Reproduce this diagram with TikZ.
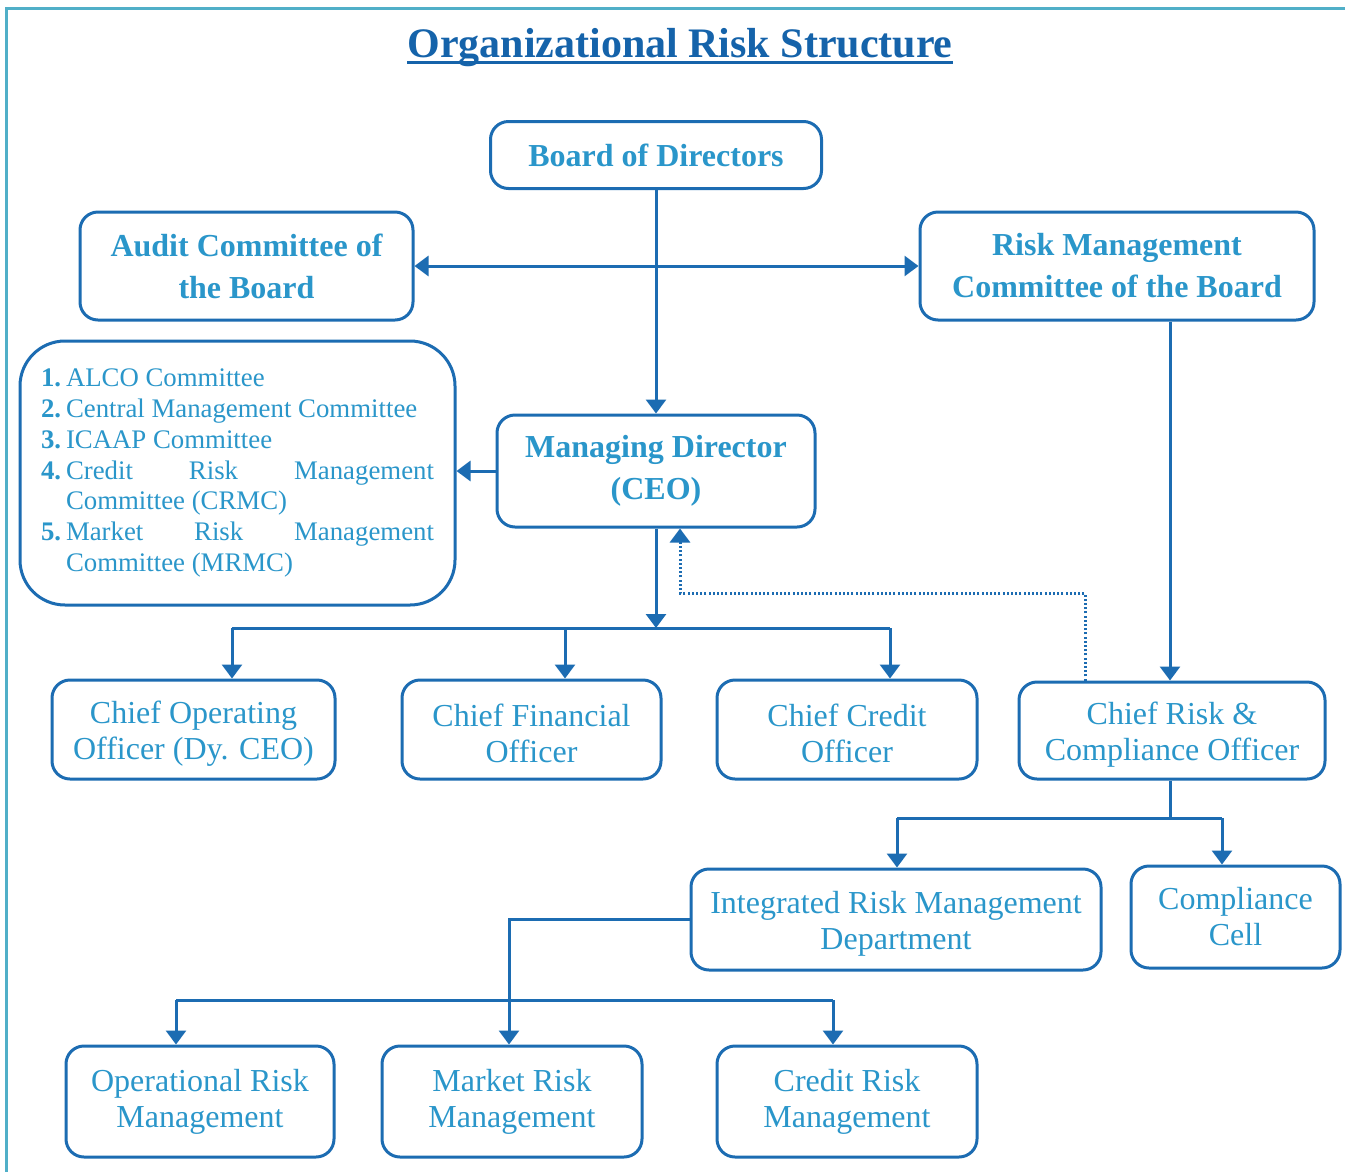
\documentclass[tikz,border=0pt]{standalone}
\usepackage{fontspec}
\setmainfont{Liberation Serif}
\usetikzlibrary{arrows.meta}
\definecolor{bordercol}{RGB}{28,108,178}
\definecolor{boxtext}{RGB}{42,150,202}
\definecolor{titlecol}{RGB}{21,99,170}
\definecolor{framecol}{RGB}{80,175,200}
\newcommand\tpad{\rule{0pt}{31pt}}
\tikzset{
  box/.style={draw=bordercol, line width=3pt, rounded corners=18pt, fill=white, inner sep=0pt, align=center, text=boxtext, font=\fontsize{32}{36}\selectfont},
  bbox/.style={box, font=\bfseries\fontsize{32}{42}\selectfont},
  link/.style={draw=bordercol, line width=3pt},
  conn/.style={link, -{Triangle[width=20pt,length=14pt]}},
  biconn/.style={link, {Triangle[width=20pt,length=14pt]}-{Triangle[width=20pt,length=14pt]}},
  dotconn/.style={conn, line width=3pt, dash pattern=on 2pt off 2.2pt},
}
\begin{document}
\begin{tikzpicture}[x=1pt,y=-1pt]
\useasboundingbox (0,0) rectangle (1345,1171);
\fill[white] (0,0) rectangle (1345,1171);
\draw[framecol, line width=3pt] (6,1175) -- (6,8) -- (1350,8);

\node[font=\bfseries\fontsize{42}{48}\selectfont, text=titlecol, inner sep=0pt, anchor=base] (title) at (680,57) {Organizational Risk Structure};
\draw[titlecol, line width=2.5pt] ([yshift=-5.5pt]title.base west) -- ([yshift=-5.5pt]title.base east);

\node[bbox, minimum width=331pt, minimum height=67pt] (board) at (656,155) {Board of Directors};
\node[bbox, minimum width=333pt, minimum height=108pt] (audit) at (246.5,266) {Audit Committee of\\the Board};
\node[bbox, minimum width=394pt, minimum height=108pt] (rmc) at (1117,266) {Risk Management\\Committee of the Board};
\node[bbox, minimum width=318pt, minimum height=112pt] (md) at (656,471) {Managing Director\\(CEO)};

\node[box, rounded corners=45pt, minimum width=435pt, minimum height=264pt, align=left, font=\fontsize{26.8}{30.8}\selectfont] (list) at (237.5,473) {%
\makebox[25pt][l]{\textbf{1.}}ALCO Committee\\
\makebox[25pt][l]{\textbf{2.}}Central Management Committee\\
\makebox[25pt][l]{\textbf{3.}}ICAAP Committee\\
\makebox[25pt][l]{\textbf{4.}}\hbox to 368pt{Credit\hfill Risk\hfill Management}\\
\hspace*{25pt}Committee (CRMC)\\
\makebox[25pt][l]{\textbf{5.}}\hbox to 368pt{Market\hfill Risk\hfill Management}\\
\hspace*{25pt}Committee (MRMC)};

\node[box, minimum width=283pt, minimum height=99pt] (coo) at (193.5,729.5) {\tpad Chief Operating\\Officer (Dy. CEO)};
\node[box, minimum width=259pt, minimum height=99pt] (cfo) at (531.5,729.5) {\tpad Chief Financial\\Officer};
\node[box, minimum width=260pt, minimum height=99pt] (cco) at (847,729.5) {\tpad Chief Credit\\Officer};
\node[box, minimum width=306pt, minimum height=97pt] (crco) at (1172,730.5) {\tpad Chief Risk \&\\Compliance Officer};
\node[box, minimum width=410pt, minimum height=101pt] (irmd) at (896,919.5) {\tpad Integrated Risk Management\\Department};
\node[box, minimum width=209pt, minimum height=102pt] (cc) at (1235.5,917) {Compliance\\Cell};
\node[box, minimum width=268pt, minimum height=111pt] (orm) at (200,1101.5) {Operational Risk\\Management};
\node[box, minimum width=260pt, minimum height=111pt] (mrm) at (512,1101.5) {Market Risk\\Management};
\node[box, minimum width=260pt, minimum height=111pt] (crm) at (847,1101.5) {Credit Risk\\Management};

% coordinates
\coordinate (mdbus) at (656,628);
\coordinate (b1) at (232,628);
\coordinate (b2) at (565,628);
\coordinate (b3) at (890,628);
\coordinate (d1) at (1085,593);
\coordinate (d2) at (680,593);
\coordinate (rbus) at (1170,818);
\coordinate (r1) at (897,818);
\coordinate (r2) at (1222,818);
\coordinate (lbus) at (509,1000);
\coordinate (l1) at (176,1000);
\coordinate (l2) at (833,1000);

% connectors
\draw[biconn] (audit.east) -- (rmc.west);
\draw[conn] (board.south) -- (md.north);
\draw[conn] (md.west) -- (md.west -| list.east);
\draw[conn] (md.south) -- (mdbus);
\draw[link] (b1) -- (b3);
\draw[conn] (b1) -- (b1 |- coo.north);
\draw[conn] (b2) -- (b2 |- cfo.north);
\draw[conn] (b3) -- (b3 |- cco.north);
\draw[conn] (rmc.south -| rbus) -- (crco.north -| rbus);
\draw[dotconn] (crco.north -| d1) -- (d1) -- (d2) -- (d2 |- md.south);
\draw[link] (crco.south -| rbus) -- (rbus);
\draw[link] (r1) -- (r2);
\draw[conn] (r1) -- (r1 |- irmd.north);
\draw[conn] (r2) -- (r2 |- cc.north);
\draw[conn] (irmd.west) -| (lbus) -- (lbus |- mrm.north);
\draw[link] (l1) -- (l2);
\draw[conn] (l1) -- (l1 |- orm.north);
\draw[conn] (l2) -- (l2 |- crm.north);
\end{tikzpicture}
\end{document}
